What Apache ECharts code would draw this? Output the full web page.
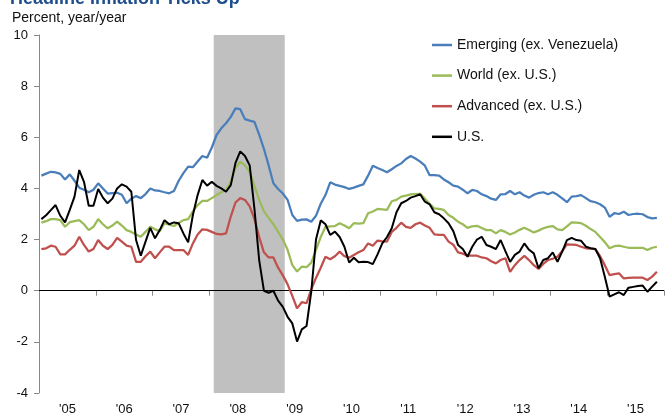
<!DOCTYPE html>
<html>
<head>
<meta charset="utf-8">
<script src="https://cdn.jsdelivr.net/npm/echarts@6/dist/echarts.min.js"></script>
<style>
  html, body { margin: 0; padding: 0; background: #fff; }
  #chart { width: 667px; height: 417px; }
</style>
</head>
<body>
<div id="chart"></div>
<script>
// monthly values, Jan 2005 onward (index 0 = Jan 2005)
var yearLabels = ["'05", "'06", "'07", "'08", "'09", "'10", "'11", "'12", "'13", "'14", "'15"];
var seriesNames = ['Emerging (ex. Venezuela)', 'World (ex. U.S.)', 'Advanced (ex. U.S.)', 'U.S.'];
var seriesColors = ['#4a7ebb', '#9bbb59', '#c0504d', '#000000'];

var emerging = [
  4.50, 4.58, 4.65, 4.63, 4.57, 4.35, 4.55, 4.30, 4.03, 3.95,
  3.85, 3.95, 4.20, 4.00, 3.80, 3.82, 3.83, 3.75, 3.42, 3.60,
  3.70, 3.62, 3.78, 4.00, 3.92, 3.90, 3.85, 3.81, 3.90, 4.30,
  4.60, 4.85, 4.83, 5.05, 5.27, 5.20, 5.60, 6.09, 6.35, 6.55,
  6.80, 7.13, 7.10, 6.71, 6.65, 6.60, 6.10, 5.55, 4.90, 4.20,
  3.98, 3.80, 3.55, 2.96, 2.73, 2.78, 2.79, 2.70, 2.93, 3.40,
  3.74, 4.24, 4.15, 4.10, 4.05, 3.98, 4.03, 4.10, 4.16, 4.50,
  4.89, 4.80, 4.72, 4.63, 4.75, 4.88, 4.98, 5.15, 5.27, 5.17,
  5.05, 4.89, 4.52, 4.52, 4.50, 4.35, 4.24, 4.11, 4.07, 3.95,
  3.81, 3.94, 3.90, 3.77, 3.70, 3.60, 3.55, 3.77, 3.78, 3.90,
  3.77, 3.85, 3.72, 3.64, 3.75, 3.82, 3.85, 3.77, 3.85, 3.75,
  3.61, 3.46, 3.68, 3.70, 3.74, 3.62, 3.50, 3.46, 3.38, 3.25,
  2.89, 3.03, 3.00, 3.09, 2.96, 3.00, 3.01, 2.99, 2.88, 2.83, 2.85
];
var world = [
  2.66, 2.72, 2.80, 2.80, 2.76, 2.50, 2.68, 2.72, 2.76, 2.60,
  2.37, 2.50, 2.80, 2.60, 2.44, 2.55, 2.70, 2.55, 2.37, 2.30,
  2.20, 2.11, 2.30, 2.50, 2.40, 2.33, 2.64, 2.58, 2.53, 2.65,
  2.76, 2.80, 3.10, 3.35, 3.51, 3.51, 3.62, 3.74, 3.85, 3.94,
  4.26, 4.80, 5.05, 4.90, 4.65, 4.10, 3.55, 3.10, 2.85, 2.60,
  2.30, 2.00, 1.60, 1.00, 0.75, 0.94, 0.92, 1.10, 1.60, 2.10,
  2.50, 2.52, 2.53, 2.64, 2.55, 2.44, 2.64, 2.62, 2.64, 3.03,
  3.10, 3.20, 3.18, 3.16, 3.50, 3.55, 3.68, 3.72, 3.77, 3.78,
  3.79, 3.60, 3.40, 3.22, 3.20, 3.16, 2.96, 2.85, 2.70, 2.60,
  2.46, 2.52, 2.54, 2.45, 2.37, 2.37, 2.24, 2.37, 2.30, 2.20,
  2.28, 2.38, 2.46, 2.37, 2.28, 2.35, 2.44, 2.50, 2.53, 2.40,
  2.37, 2.52, 2.67, 2.66, 2.64, 2.54, 2.41, 2.30, 2.10, 1.90,
  1.66, 1.74, 1.76, 1.72, 1.68, 1.68, 1.68, 1.68, 1.59, 1.68, 1.72
];
var advanced = [
  1.63, 1.66, 1.76, 1.72, 1.42, 1.42, 1.60, 1.76, 2.11, 1.79,
  1.53, 1.63, 1.98, 1.76, 1.63, 1.79, 2.07, 1.92, 1.76, 1.72,
  1.13, 1.13, 1.35, 1.53, 1.27, 1.50, 1.72, 1.72, 1.59, 1.59,
  1.59, 1.40, 1.85, 2.20, 2.40, 2.38, 2.30, 2.22, 2.20, 2.24,
  2.90, 3.45, 3.62, 3.55, 3.30, 2.80, 2.10, 1.50, 1.30, 1.30,
  0.90, 0.60, 0.25, -0.20, -0.69, -0.45, -0.49, 0.05, 0.50, 0.90,
  1.33, 1.23, 1.35, 1.53, 1.35, 1.29, 1.40, 1.50, 1.59, 1.85,
  1.76, 1.96, 1.93, 1.92, 2.30, 2.46, 2.66, 2.50, 2.46, 2.60,
  2.66, 2.55, 2.46, 2.20, 2.18, 2.18, 1.92, 1.80, 1.50, 1.45,
  1.37, 1.37, 1.37, 1.30, 1.27, 1.15, 1.07, 1.20, 1.27, 0.74,
  1.00, 1.20, 1.36, 1.20, 1.00, 0.85, 1.05, 1.20, 1.25, 1.33,
  1.55, 1.81, 1.80, 1.79, 1.72, 1.66, 1.65, 1.63, 1.35, 1.00,
  0.61, 0.65, 0.68, 0.48, 0.50, 0.51, 0.51, 0.51, 0.42, 0.55, 0.74
];
var us = [
  2.80, 2.95, 3.15, 3.35, 2.93, 2.67, 3.16, 3.68, 4.72, 4.26,
  3.32, 3.32, 3.98, 3.64, 3.42, 3.60, 4.00, 4.16, 4.07, 3.87,
  1.98, 1.37, 1.92, 2.46, 2.05, 2.37, 2.76, 2.60, 2.67, 2.64,
  2.24, 1.89, 2.96, 3.74, 4.33, 4.11, 4.26, 4.10, 4.00, 3.87,
  4.13, 5.00, 5.45, 5.27, 4.90, 3.20, 1.20, 0.00, -0.08, 0.00,
  -0.39, -0.63, -1.02, -1.28, -1.99, -1.51, -1.38, -0.04, 2.00, 2.75,
  2.60, 2.18, 2.31, 2.10, 1.72, 1.10, 1.29, 1.11, 1.13, 1.12,
  1.04, 1.42, 1.85, 2.10, 2.44, 3.07, 3.42, 3.51, 3.64, 3.70,
  3.77, 3.48, 3.38, 3.07, 2.99, 2.83, 2.64, 2.33, 1.79, 1.63,
  1.33, 1.72, 2.00, 2.11, 1.79, 1.72, 1.63, 1.98, 1.55, 1.13,
  1.40, 1.53, 1.85, 1.60, 1.46, 0.88, 1.20, 1.27, 1.50, 1.13,
  1.53, 1.98, 2.07, 1.98, 1.95, 1.72, 1.66, 1.63, 1.27, 0.55,
  -0.23, -0.14, -0.06, -0.17, 0.12, 0.15, 0.18, 0.20, -0.04, 0.16, 0.35
];
// recession shading, in months from Jan 2005
var recession = [36.9, 51.9];

var font = "'Liberation Sans', Arial, sans-serif";

function toPoints(arr) {
  return arr.map(function (v, i) { return [i + 0.5, v]; });
}

var myChart = echarts.init(document.getElementById('chart'));

var allData = [emerging, world, advanced, us];
var series = allData.map(function (arr, k) {
  return {
    name: seriesNames[k],
    type: 'line',
    data: toPoints(arr),
    symbol: 'none',
    smooth: false,
    z: 3 + k,
    lineStyle: { color: seriesColors[k], width: k === 3 ? 2 : 2.25 },
    itemStyle: { color: seriesColors[k] }
  };
});

// shaded recession + zero line
series[0].markArea = {
  silent: true,
  itemStyle: { color: '#c0c0c0' },
  data: [[{ xAxis: recession[0] }, { xAxis: recession[1] }]]
};
series[3].markLine = {
  silent: true,
  symbol: 'none',
  label: { show: false },
  lineStyle: { color: '#000', width: 1, type: 'solid' },
  data: [{ yAxis: 0 }]
};

option = {
  animation: false,
  backgroundColor: '#fff',
  title: [
    {
      text: 'Headline Inflation Ticks Up',
      left: 5,
      top: -15,
      textStyle: { fontFamily: font, fontSize: 18, fontWeight: 'bold', color: '#1f4e8c' }
    },
    {
      text: 'Percent, year/year',
      left: 7,
      top: 6,
      textStyle: { fontFamily: font, fontSize: 14, fontWeight: 'normal', color: '#111' }
    }
  ],
  legend: {
    orient: 'vertical',
    left: 427,
    top: 33,
    itemWidth: 20,
    itemHeight: 14,
    itemGap: 16.6,
    icon: 'path://M0,0H20V2.5H0Z',
    textStyle: { fontFamily: font, fontSize: 14, color: '#111' },
    data: seriesNames
  },
  grid: { left: 39, top: 35, width: 637, height: 358, containLabel: false },
  xAxis: [
    {
      type: 'value',
      position: 'bottom',
      min: 0,
      max: 132,
      interval: 12,
      axisLine: { lineStyle: { color: '#888', width: 1 } },
      axisTick: { show: true, length: 5, lineStyle: { color: '#888' } },
      axisLabel: { show: false },
      splitLine: { show: false }
    },
    {
      type: 'value',
      position: 'bottom',
      min: 0,
      max: 132,
      interval: 6,
      axisLine: { show: false },
      axisTick: { show: false },
      splitLine: { show: false },
      axisLabel: {
        margin: 10,
        fontFamily: font,
        fontSize: 13,
        color: '#111',
        formatter: function (v) {
          if (v % 12 === 6) return yearLabels[(v - 6) / 12] || '';
          return '';
        }
      }
    }
  ],
  yAxis: {
    type: 'value',
    min: -4,
    max: 10,
    interval: 2,
    axisLine: { show: true, lineStyle: { color: '#888', width: 1 } },
    axisTick: { show: true, length: 5, lineStyle: { color: '#888' } },
    axisLabel: { margin: 11, fontFamily: font, fontSize: 13, color: '#111' },
    splitLine: { show: false }
  },
  series: series
};

myChart.setOption(option);
</script>
</body>
</html>
